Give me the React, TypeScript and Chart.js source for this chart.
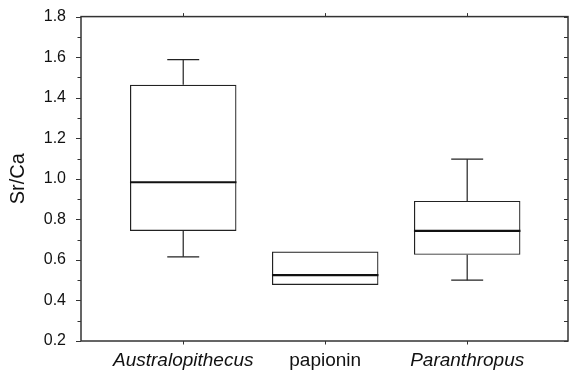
import React, { useEffect, useRef } from "react";
import { Chart, registerables } from "chart.js";

Chart.register(...registerables);

// ---- data ----
const categories = ["Australopithecus", "papionin", "Paranthropus"];
const italicCategories = [true, false, true];
const whiskerLow = [0.615, 0.476, 0.5];
const q1 = [0.743, 0.476, 0.625];
const median = [0.983, 0.525, 0.743];
const q3 = [1.464, 0.641, 0.891];
const whiskerHigh = [1.588, 0.641, 1.097];
const yTickMin = 0.2;
const yTickMax = 1.8;
const yTickStep = 0.2;
const yMinorStep = 0.1;

const FONT = '"Liberation Sans", Arial, Helvetica, sans-serif';
const INK = "#222";

function seg(ctx: CanvasRenderingContext2D, x1: number, y1: number, x2: number, y2: number) {
  ctx.beginPath();
  ctx.moveTo(x1, y1);
  ctx.lineTo(x2, y2);
  ctx.stroke();
}

const boxPlugin = {
  id: "boxExtras",
  afterDatasetsDraw(chart: any) {
    const ctx: CanvasRenderingContext2D = chart.ctx;
    const y = chart.scales.y;
    const meta = chart.getDatasetMeta(0);
    ctx.save();
    meta.data.forEach((bar: any, i: number) => {
      const { x: cx, width } = bar.getProps(["x", "width"], true);
      const half = width / 2;
      ctx.strokeStyle = INK;
      ctx.lineWidth = 1.2;
      const capHalf = width * 0.15;
      const pairs: [number, number][] = [
        [q3[i], whiskerHigh[i]],
        [q1[i], whiskerLow[i]],
      ];
      for (const [from, to] of pairs) {
        if (from === to) continue;
        const yf = y.getPixelForValue(from);
        const yt = y.getPixelForValue(to);
        seg(ctx, cx, yf, cx, yt);
        seg(ctx, cx - capHalf, yt, cx + capHalf, yt);
      }
      ctx.strokeStyle = "#111";
      ctx.lineWidth = 2.2;
      const my = y.getPixelForValue(median[i]);
      seg(ctx, cx - half, my, cx + half, my);
    });
    ctx.restore();
  },
  afterDraw(chart: any) {
    const ctx: CanvasRenderingContext2D = chart.ctx;
    const { left, right, top, bottom } = chart.chartArea;
    const x = chart.scales.x;
    const y = chart.scales.y;
    ctx.save();
    ctx.strokeStyle = "#333";
    ctx.lineWidth = 1.5;
    ctx.strokeRect(left, top, right - left, bottom - top);
    ctx.lineWidth = 1;
    const n = Math.round((yTickMax - yTickMin) / yMinorStep);
    for (let k = 0; k <= n; k++) {
      const v = yTickMin + k * yMinorStep;
      const py = Math.round(y.getPixelForValue(v)) + 0.5;
      const major = k % 2 === 0;
      seg(ctx, left - (major ? 5 : 3.5), py, left, py);
      seg(ctx, right, py, right - 4, py);
    }
    categories.forEach((_, i) => {
      const px = Math.round(x.getPixelForValue(i)) + 0.5;
      seg(ctx, px, top, px, top - 3.5);
      seg(ctx, px, bottom, px, bottom + 3.5);
    });
    ctx.restore();
  },
};

export default function App() {
  const ref = useRef<HTMLCanvasElement | null>(null);

  useEffect(() => {
    document.body.style.margin = "0";
    const canvas = ref.current;
    if (!canvas) return;
    const chart = new Chart(canvas, {
      type: "bar",
      data: {
        datasets: [
          {
            data: categories.map((_, i) => ({ x: i, y: [q1[i], q3[i]] })) as any,
            backgroundColor: "rgba(255,255,255,0)",
            borderColor: INK,
            borderWidth: 1.2,
            borderSkipped: false,
            barPercentage: 0.75,
            categoryPercentage: 1,
          },
        ],
      },
      options: {
        animation: false,
        responsive: false,
        devicePixelRatio: 1,
        layout: { padding: { left: 0, right: 3, top: 8, bottom: 0 } },
        plugins: {
          legend: { display: false },
          tooltip: { enabled: false },
        },
        scales: {
          x: {
            type: "linear",
            offset: false,
            min: -0.72,
            max: 2.71,
            grid: { display: false, offset: false },
            border: { display: false },
            afterBuildTicks: (s: any) => {
              s.ticks = categories.map((_, i) => ({ value: i }));
            },
            afterFit: (s: any) => {
              s.height = 29;
            },
            ticks: {
              autoSkip: false,
              maxRotation: 0,
              padding: 0,
              color: "#111",
              font: (c: any) => ({
                family: FONT,
                size: 19,
                style: italicCategories[c.index] ? "italic" : "normal",
              }),
              callback: (v: any) => categories[v as number] ?? "",
            },
          },
          y: {
            min: yTickMin,
            max: yTickMax,
            grid: { display: false },
            border: { display: false },
            afterFit: (s: any) => {
              s.width = 81;
            },
            ticks: {
              stepSize: yTickStep,
              padding: 7,
              color: "#111",
              font: { family: FONT, size: 16 },
              callback: (v: any) => Number(v).toFixed(1),
            },
            title: {
              display: true,
              text: "Sr/Ca",
              color: "#111",
              font: { family: FONT, size: 20 },
              padding: { top: 6, bottom: 0 },
            },
          },
        },
      },
      plugins: [boxPlugin],
    });
    return () => chart.destroy();
  }, []);

  return <canvas ref={ref} width={571} height={370} style={{ display: "block" }} />;
}
